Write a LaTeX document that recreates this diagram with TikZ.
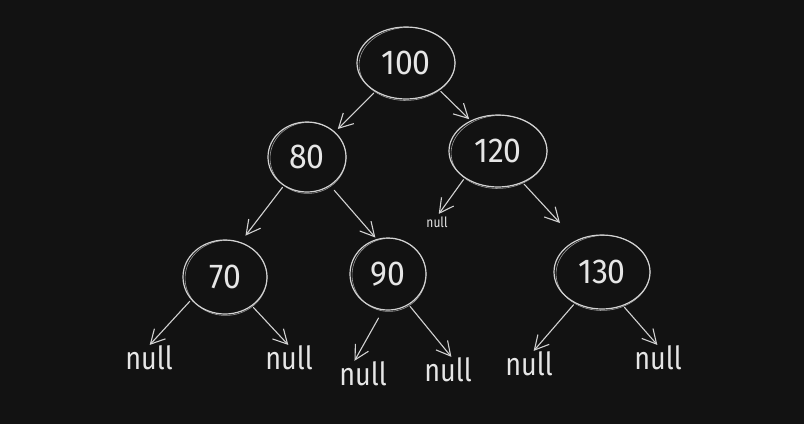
\documentclass[tikz,border=0pt]{standalone}
\usepackage{fontspec}
\setmainfont{Fira Sans}
\usetikzlibrary{shapes.geometric,arrows.meta}
\definecolor{board}{HTML}{121212}
\definecolor{chalk}{HTML}{D2D2D2}
\definecolor{chalktext}{HTML}{E6E6E6}
\tikzset{
  keynode/.style={ellipse,draw=chalk,line width=1.2pt,inner sep=0pt,
    text=chalktext,font=\fontsize{32}{32}\selectfont},
  nullnode/.style={inner sep=0pt,text=chalktext,font=\fontsize{27}{27}\selectfont},
  smallnull/.style={inner sep=0pt,text=chalktext,font=\fontsize{12}{12}\selectfont},
  link/.style={draw=chalk,line width=1.1pt,line cap=round,
    -{Straight Barb[length=14pt,width=15pt,line width=1.1pt]}},
  retrace/.style={draw=chalk,line width=0.6pt,opacity=0.7}
}
% tall lettering for the empty children
\newcommand{\tallword}[1]{\scalebox{1}[1.18]{#1}}
% key node: name, x, y, x radius, y radius, label
\newcommand{\keyellipse}[6]{%
  \node[keynode,minimum width=#4*2pt,minimum height=#5*2pt] (#1) at (#2,#3) {\scalebox{1}[1.08]{#6}};
  \draw[retrace,rotate around={3:(#1.center)}] ([shift={(1,1)}]#1.center)
    ellipse [x radius=#4pt-1pt,y radius=#5pt+0.5pt];
}
\begin{document}
\begin{tikzpicture}[x=1pt,y=-1pt]
  \fill[board] (0,0) rectangle (804,424);
  \useasboundingbox (0,0) rectangle (804,424);

  % tree keys
  \keyellipse{k100}{406}{63}{49}{36}{100}
  \keyellipse{k80}{307}{157}{39}{35}{80}
  \keyellipse{k120}{498}{151}{49}{36}{120}
  \keyellipse{k70}{225}{277}{42}{37}{70}
  \keyellipse{k90}{388}{274}{38}{36}{90}
  \keyellipse{k130}{602}{272}{48}{37}{130}

  % empty children
  \node[smallnull] (n120l) at (437,222) {\tallword{null}};
  \node[nullnode] (n70l) at (149,358) {\tallword{null}};
  \node[nullnode] (n70r) at (289,358) {\tallword{null}};
  \node[nullnode] (n90l) at (363,374) {\tallword{null}};
  \node[nullnode] (n90r) at (448,370) {\tallword{null}};
  \node[nullnode] (n130l) at (529,364) {\tallword{null}};
  \node[nullnode] (n130r) at (658,358) {\tallword{null}};
  \coordinate (open120) at (560,223);

  % links
  \draw[link,shorten <=2pt,shorten >=4pt] (k100.223) -- (k80.42);
  \draw[link,shorten <=2pt,shorten >=2pt] (k100.321) -- (k120.132);
  \draw[link,shorten <=2pt,shorten >=8pt] (k80.231) -- (k70.66);
  \draw[link,shorten <=6pt,shorten >=2pt] (k80.309) -- (k90.108);
  \draw[link,shorten <=2pt,shorten >=3pt] (k120.219) -- (n120l.north);
  \draw[link,shorten <=2pt] (k120.308) -- (open120);
  \draw[link,shorten <=2pt,shorten >=1pt] (k70.214) -- (n70l.north);
  \draw[link,shorten <=2pt,shorten >=1pt] (k70.313) -- (n70r.north);
  \draw[link,shorten <=9pt,shorten >=1pt] (k90.262) -- ([xshift=-9]n90l.north);
  \draw[link,shorten <=2pt,shorten >=1pt] (k90.304) -- ([xshift=4]n90r.north);
  \draw[link,shorten <=2pt,shorten >=1pt] (k130.229) -- ([xshift=4]n130l.north);
  \draw[link,shorten <=2pt,shorten >=1pt] (k130.302) -- (n130r.north);
\end{tikzpicture}
\end{document}
